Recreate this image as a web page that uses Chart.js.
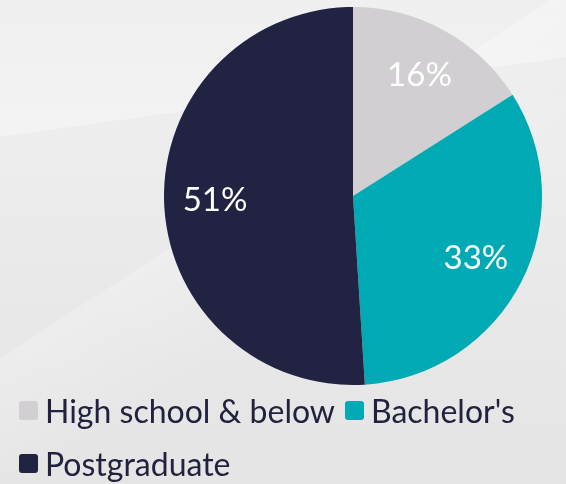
<!DOCTYPE html>
<html>
<head>
<meta charset="utf-8">
<script src="https://cdn.jsdelivr.net/npm/chart.js@4.4.1/dist/chart.umd.min.js"></script>
<style>
  html, body { margin: 0; padding: 0; }
  body {
    width: 566px; height: 484px; overflow: hidden; position: relative;
    background:
      linear-gradient(172deg, rgba(255,255,255,0) 0, rgba(255,255,255,0) 135px, rgba(0,0,0,0.025) 136px),
      linear-gradient(147deg, rgba(255,255,255,0) 0, rgba(255,255,255,0) 300px, rgba(255,255,255,0.3) 301px, rgba(255,255,255,0) 420px),
      linear-gradient(180deg, #efefef 0, #f3f3f3 130px, #eeeeee 300px, #eaeaea 484px);
  }
  #wrap { position: absolute; left: 0; top: 0; width: 566px; height: 484px; }
  #legend {
    position: absolute; left: 19px; top: 392px; width: 547px;
    display: flex; flex-wrap: wrap; column-gap: 10px; row-gap: 16px;
    font-family: Lato, 'Noto Sans', sans-serif; font-size: 32px; color: #22223f;
  }
  .item { display: flex; align-items: center; height: 37px; }
  .box { width: 19px; height: 19px; border-radius: 3px; margin-right: 7px; }
</style>
</head>
<body>
<div id="wrap"><canvas id="chartEdu"></canvas></div>
<div id="legend"></div>
<script>
// ── DATA ──────────────────────────────────────────────
const labels = ['High school & below', "Bachelor's", 'Postgraduate'];
const values = [16, 33, 51];
const colors = ['#d1cfd1', '#00aab5', '#222243'];

// percent labels inside the slices
const sliceLabels = {
  id: 'sliceLabels',
  afterDatasetsDraw(chart) {
    const { ctx } = chart;
    const arcs = chart.getDatasetMeta(0).data;
    ctx.save();
    ctx.fillStyle = '#ffffff';
    ctx.font = "33px Lato, 'Noto Sans', sans-serif";
    ctx.textAlign = 'center';
    ctx.textBaseline = 'middle';
    arcs.forEach((arc, i) => {
      const mid = (arc.startAngle + arc.endAngle) / 2;
      const r = arc.outerRadius * 0.73;
      ctx.fillText(values[i] + '%', arc.x + Math.cos(mid) * r, arc.y + Math.sin(mid) * r);
    });
    ctx.restore();
  }
};

new Chart(document.getElementById('chartEdu'), {
  type: 'pie',
  data: {
    labels,
    datasets: [{ data: values, backgroundColor: colors, borderWidth: 0 }]
  },
  options: {
    responsive: true, maintainAspectRatio: false, animation: false,
    layout: { padding: { left: 164, right: 24, top: 7, bottom: 99 } },
    plugins: { legend: { display: false }, tooltip: { enabled: false } }
  },
  plugins: [sliceLabels]
});

// ── LEGEND ────────────────────────────────────────────
document.getElementById('legend').innerHTML = labels.map((l, i) =>
  `<div class="item"><span class="box" style="background:${colors[i]}"></span>${l}</div>`).join('');
</script>
</body>
</html>
